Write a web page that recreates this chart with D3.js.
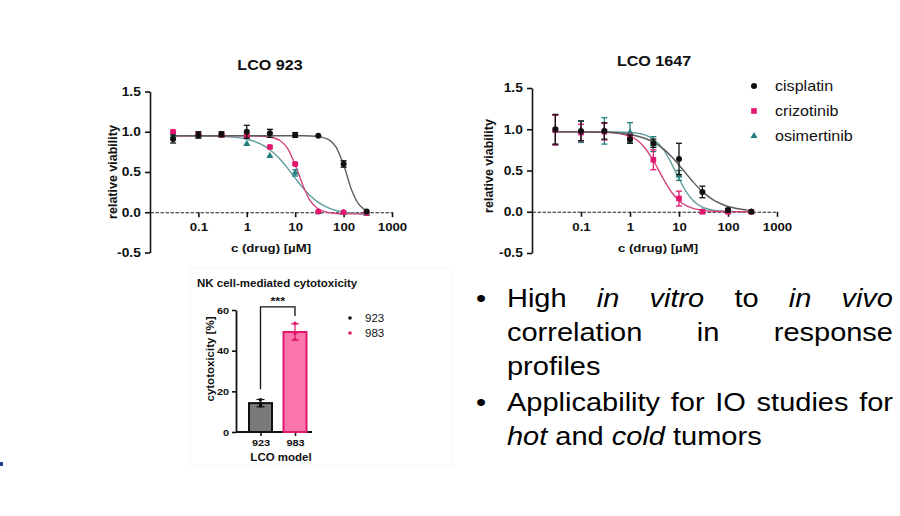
<!DOCTYPE html>
<html><head><meta charset="utf-8">
<script src="https://cdn.jsdelivr.net/npm/d3@7"></script>
<style>
body{margin:0;background:#fff}
svg{display:block}
text{font-family:"Liberation Sans",Arial,sans-serif}
</style>
</head><body>
<svg id="c" width="900" height="516"></svg>
<script>
// ---------- data ----------
const conc = [0.03, 0.1, 0.3, 1, 3, 10, 30, 100, 300];
const drugs = ["cisplatin", "crizotinib", "osimertinib"];
const yTicks = [-0.5, 0, 0.5, 1.0, 1.5];
const xTicks = [0.1, 1, 10, 100, 1000];

// LCO 923 measured points (mean, error)
const p923Cis = [0.91, 0.96, 0.97, 1.00, 0.98, 0.96, 0.95, 0.60, 0.01];
const p923CisErr = [0.05, 0.04, 0.03, 0.08, 0.05, 0.03, 0.01, 0.04, 0.01];
const p923Cri = [1.00, 0.97, 0.96, 0.95, 0.81, 0.60, 0.01, 0.00, -0.01];
const p923CriErr = [0.02, 0.02, 0.02, 0.02, 0.02, 0.02, 0.01, 0.01, 0.01];
const p923Osi = [0.95, 0.95, 0.95, 0.85, 0.70, 0.49, 0.00, -0.01, -0.02];
const p923OsiErr = [0.01, 0.01, 0.01, 0.01, 0.01, 0.04, 0.01, 0.01, 0.01];

// LCO 1647 measured points (mean, error)
const p1647Cis = [1.00, 0.98, 0.98, 0.88, 0.83, 0.64, 0.24, 0.02, 0.00];
const p1647CisErr = [0.18, 0.12, 0.10, 0.05, 0.05, 0.19, 0.07, 0.02, 0.01];
const p1647Cri = [0.99, 0.96, 0.97, 0.90, 0.63, 0.16, 0.00, 0.00, 0.00];
const p1647CriErr = [0.18, 0.10, 0.10, 0.04, 0.12, 0.09, 0.01, 0.01, 0.01];
const p1647Osi = [0.99, 0.97, 0.98, 0.96, 0.82, 0.44, 0.00, 0.00, 0.00];
const p1647OsiErr = [0.18, 0.13, 0.16, 0.12, 0.09, 0.06, 0.01, 0.01, 0.01];

// fitted curves at these concentrations
const curveConc = [0.03, 0.1, 0.3, 1, 2, 3, 5, 7, 10, 15, 20, 30, 50, 70, 100, 150, 200, 250, 300];
const c923Cis = [0.95, 0.95, 0.95, 0.95, 0.95, 0.95, 0.95, 0.95, 0.95, 0.95, 0.948, 0.94, 0.90, 0.81, 0.59, 0.26, 0.11, 0.05, 0.02];
const c923Cri = [0.95, 0.95, 0.95, 0.95, 0.945, 0.935, 0.885, 0.79, 0.59, 0.31, 0.15, 0.04, -0.005, -0.015, -0.02, -0.02, -0.02, -0.02, -0.02];
const c923Osi = [0.95, 0.948, 0.942, 0.907, 0.843, 0.777, 0.651, 0.545, 0.424, 0.29, 0.211, 0.123, 0.052, 0.022, 0.003, -0.01, -0.017, -0.02, -0.023];
const c1647Cis = [0.97, 0.968, 0.963, 0.937, 0.891, 0.844, 0.753, 0.670, 0.567, 0.44, 0.353, 0.244, 0.144, 0.10, 0.064, 0.04, 0.027, 0.02, 0.016];
const c1647Cri = [0.97, 0.97, 0.965, 0.913, 0.776, 0.621, 0.379, 0.239, 0.134, 0.064, 0.037, 0.017, 0.006, 0.003, 0.002, 0.001, 0, 0, 0];
const c1647Osi = [0.97, 0.97, 0.97, 0.961, 0.931, 0.881, 0.74, 0.587, 0.40, 0.216, 0.128, 0.057, 0.019, 0.009, 0.004, 0.002, 0.001, 0, 0];

// NK cell-mediated cytotoxicity
const barCats = ["923", "983"];
const barMeans = [14.2, 49.2];
const barErr = [1.8, 4.0];
const barPoints = [[12.8, 14.0, 15.8], [45.6, 48.6, 53.4]];
const barTicks = [0, 20, 40, 60];
const sigLabel = "***";

// bullet text
const bulletLines = [
  { words: [["High", 0], ["in", 1], ["vitro", 1], ["to", 0], ["in", 1], ["vivo", 1]], justify: true, bullet: true },
  { words: [["correlation", 0], ["in", 0], ["response", 0]], justify: true },
  { words: [["profiles", 0]] },
  { words: [["Applicability", 0], ["for", 0], ["IO", 0], ["studies", 0], ["for", 0]], justify: true, bullet: true },
  { words: [["hot", 1], ["and", 0], ["cold", 1], ["tumors", 0]] }
];
const bulletY = [307, 341, 375, 411, 445];

// ---------- styles ----------
const SX = 1.15;
const ptColors = ["#111111", "#e5166f", "#23807f"];
const lnColors = ["#5c5c5c", "#d6457d", "#5f9e9d"];
const svg = d3.select("#c");

function T(parent, x, y, str, o = {}) {
  const t = parent.append("text")
    .attr("transform", `translate(${x},${y}) scale(${o.sx || SX},1)`)
    .attr("text-anchor", o.anchor || "start")
    .attr("font-size", o.size || 12)
    .attr("font-weight", o.bold ? "bold" : "normal")
    .attr("font-style", o.italic ? "italic" : "normal")
    .attr("fill", o.fill || "#111")
    .text(str);
  return t;
}
function TR(parent, x, y, str, o = {}) {
  return parent.append("text")
    .attr("transform", `translate(${x},${y}) rotate(-90)`)
    .attr("text-anchor", "middle")
    .attr("font-size", o.size || 12)
    .attr("font-weight", "bold")
    .attr("fill", "#111")
    .text(str);
}

function marker(g, kind, cx, cy, color) {
  if (kind === "circle") {
    g.append("circle").attr("cx", cx).attr("cy", cy).attr("r", 3).attr("fill", color);
  } else if (kind === "square") {
    g.append("rect").attr("x", cx - 2.8).attr("y", cy - 2.8).attr("width", 5.6).attr("height", 5.6).attr("fill", color);
  } else {
    g.append("path").attr("d", d3.symbol(d3.symbolTriangle, 22)()).attr("transform", `translate(${cx},${cy})`).attr("fill", color);
  }
}

function dosePanel(o) {
  const x = d3.scaleLog().domain([0.01, 1000]).range([o.x0, o.x1]);
  const y = d3.scaleLinear().domain([-0.5, 1.5]).range([o.yb, o.yt]);
  const g = svg.append("g");

  // y axis
  const yg = g.append("g").attr("transform", `translate(${o.x0},0)`)
    .call(d3.axisLeft(y).tickValues(yTicks).tickFormat(d => d.toFixed(1)).tickSize(5).tickSizeOuter(0).tickPadding(3));
  yg.select(".domain").attr("stroke", "#111").attr("stroke-width", 1.6);
  yg.selectAll(".tick line").attr("stroke", "#111").attr("stroke-width", 1.6);
  yg.selectAll(".tick text").attr("font-size", 12).attr("font-weight", "bold").attr("fill", "#111")
    .attr("font-family", "Liberation Sans, Arial, sans-serif").attr("transform", `scale(${SX},1)`);

  // x axis at y = 0
  const xg = g.append("g").attr("transform", `translate(0,${y(0)})`)
    .call(d3.axisBottom(x).tickValues(xTicks).tickFormat(d => String(d)).tickSize(5).tickSizeOuter(0).tickPadding(6));
  xg.select(".domain").attr("stroke", "#222").attr("stroke-width", 1.1).attr("stroke-dasharray", "3.5,1.5");
  xg.selectAll(".tick line").attr("stroke", "#111").attr("stroke-width", 1.6);
  xg.selectAll(".tick text").attr("font-size", 11.5).attr("font-weight", "bold").attr("fill", "#111")
    .attr("font-family", "Liberation Sans, Arial, sans-serif").attr("transform", `scale(${SX},1)`);

  T(g, o.titleX, o.titleY, o.title, { size: 14, bold: true, anchor: "middle" });
  T(g, o.xlabX, o.xlabY, "c (drug) [µM]", { size: 11.5, bold: true, anchor: "middle" });
  TR(g, o.ylabX, o.ylabY, "relative viability", { size: 12.5 });

  const line = d3.line().x(d => x(d[0])).y(d => y(d[1])).curve(d3.curveMonotoneX);
  const order = [2, 1, 0];
  order.forEach(i => {
    g.append("path").datum(curveConc.map((c, k) => [c, o.curves[i][k]]))
      .attr("d", line).attr("fill", "none").attr("stroke", lnColors[i]).attr("stroke-width", 1.4);
  });
  order.forEach(i => {
    const kind = i === 0 ? "circle" : (i === 1 ? o.criShape : "triangle");
    conc.forEach((c, k) => {
      const v = o.pts[i][k], e = o.errs[i][k];
      const cx = x(c);
      if (e > 0.015) {
        const y1 = y(v + e), y2 = y(v - e);
        g.append("line").attr("x1", cx).attr("x2", cx).attr("y1", y1).attr("y2", y2).attr("stroke", ptColors[i]).attr("stroke-width", 1.3);
        g.append("line").attr("x1", cx - 3).attr("x2", cx + 3).attr("y1", y1).attr("y2", y1).attr("stroke", ptColors[i]).attr("stroke-width", 1.3);
        g.append("line").attr("x1", cx - 3).attr("x2", cx + 3).attr("y1", y2).attr("y2", y2).attr("stroke", ptColors[i]).attr("stroke-width", 1.3);
      }
      marker(g, kind, cx, y(v), ptColors[i]);
    });
  });
  return g;
}

dosePanel({
  x0: 150, x1: 392, yt: 91.5, yb: 252.5,
  title: "LCO 923", titleX: 270, titleY: 70,
  xlabX: 271, xlabY: 252, ylabX: 117, ylabY: 172,
  curves: [c923Cis, c923Cri, c923Osi],
  pts: [p923Cis, p923Cri, p923Osi],
  errs: [p923CisErr, p923CriErr, p923OsiErr],
  criShape: "circle"
});

dosePanel({
  x0: 532, x1: 777, yt: 88, yb: 253,
  title: "LCO 1647", titleX: 654, titleY: 66,
  xlabX: 658, xlabY: 252, ylabX: 493, ylabY: 166,
  curves: [c1647Cis, c1647Cri, c1647Osi],
  pts: [p1647Cis, p1647Cri, p1647Osi],
  errs: [p1647CisErr, p1647CriErr, p1647OsiErr],
  criShape: "square"
});

// legend
const legY = [86, 111, 136];
const legKinds = ["circle", "square", "triangle"];
drugs.forEach((d, i) => {
  marker(svg, legKinds[i], 754, legY[i], ptColors[i]);
  T(svg, 775, legY[i] + 5, d, { size: 14 });
});

// ---------- bar chart ----------
const bg = svg.append("g");
bg.append("rect").attr("x", 190).attr("y", 268).attr("width", 262).attr("height", 198)
  .attr("fill", "none").attr("stroke", "#f6f6f6").attr("stroke-width", 1);
const by = d3.scaleLinear().domain([0, 60]).range([432, 310]);
const bx = d3.scalePoint().domain(barCats).range([260.5, 295]);
const bw = 23;

T(bg, 197, 287, "NK cell-mediated cytotoxicity", { size: 10, bold: true });

const byg = bg.append("g").attr("transform", "translate(236,0)")
  .call(d3.axisLeft(by).tickValues(barTicks).tickSize(4).tickSizeOuter(0).tickPadding(2));
byg.select(".domain").attr("stroke", "#111").attr("stroke-width", 1.8);
byg.selectAll(".tick line").attr("stroke", "#111").attr("stroke-width", 1.6);
byg.selectAll(".tick text").attr("font-size", 9.5).attr("font-weight", "bold").attr("fill", "#111")
  .attr("font-family", "Liberation Sans, Arial, sans-serif").attr("transform", `scale(${SX},1)`);

const bxg = bg.append("g").attr("transform", `translate(0,${by(0)})`)
  .call(d3.axisBottom(bx).tickSize(4).tickSizeOuter(0).tickPadding(3));
bxg.select(".domain").remove();
bxg.selectAll(".tick line").attr("stroke", "#111").attr("stroke-width", 1.6);
bxg.selectAll(".tick text").attr("font-size", 9.5).attr("font-weight", "bold").attr("fill", "#111")
  .attr("font-family", "Liberation Sans, Arial, sans-serif").attr("transform", `scale(${SX},1)`);
bg.append("line").attr("x1", 236).attr("x2", 312).attr("y1", by(0)).attr("y2", by(0)).attr("stroke", "#111").attr("stroke-width", 1.8);

T(bg, 281, 461, "LCO model", { size: 10, bold: true, anchor: "middle" });
TR(bg, 214, 359, "cytotoxicity [%]", { size: 11.5 });

const barFill = ["#7a7a7a", "#fb76aa"];
const barStroke = ["#111111", "#e0186c"];
barCats.forEach((c, i) => {
  const cx = bx(c);
  bg.append("rect").attr("x", cx - bw / 2).attr("y", by(barMeans[i])).attr("width", bw)
    .attr("height", by(0) - by(barMeans[i])).attr("fill", barFill[i]).attr("stroke", barStroke[i]).attr("stroke-width", 2);
  const y1 = by(barMeans[i] + barErr[i]), y2 = by(barMeans[i] - barErr[i]);
  bg.append("line").attr("x1", cx).attr("x2", cx).attr("y1", y1).attr("y2", y2).attr("stroke", barStroke[i]).attr("stroke-width", 1.2);
  [y1, y2].forEach(yy => bg.append("line").attr("x1", cx - 4).attr("x2", cx + 4).attr("y1", yy).attr("y2", yy).attr("stroke", barStroke[i]).attr("stroke-width", 1.2));
  barPoints[i].forEach(v => bg.append("circle").attr("cx", cx).attr("cy", by(v)).attr("r", 1.8).attr("fill", barStroke[i]));
});

// significance bracket
const xa = bx(barCats[0]), xb = bx(barCats[1]);
bg.append("path")
  .attr("d", `M${xa},${by(21)}V${by(61.5)}H${xb}V${by(57)}`)
  .attr("fill", "none").attr("stroke", "#111").attr("stroke-width", 1.3);
T(bg, (xa + xb) / 2, by(61.5) - 2, sigLabel, { size: 11, bold: true, anchor: "middle" });

// bar legend
barCats.forEach((c, i) => {
  bg.append("circle").attr("cx", 350).attr("cy", 318 + i * 15).attr("r", 1.8).attr("fill", barStroke[i]);
  T(bg, 365, 322 + i * 15, c, { size: 10 });
});

// ---------- bullet text ----------
const BS = 25, BSX = 1.16, left = 507, right = 893;
const tg = svg.append("g");
bulletLines.forEach((ln, li) => {
  const yy = bulletY[li];
  if (ln.bullet) T(tg, 476, yy, "•", { size: BS, sx: BSX, fill: "#000" });
  const nodes = ln.words.map(w => T(tg, 0, yy, w[0], { size: BS, sx: BSX, italic: w[1] === 1, fill: "#000" }));
  const widths = nodes.map(n => n.node().getComputedTextLength() * BSX);
  const sum = d3.sum(widths);
  const gap = (ln.justify && nodes.length > 1) ? (right - left - sum) / (nodes.length - 1) : 0.278 * BS * BSX;
  let cx = left;
  nodes.forEach((n, k) => {
    n.attr("transform", `translate(${cx},${yy}) scale(${BSX},1)`);
    cx += widths[k] + gap;
  });
});

// small blue mark at left edge
svg.append("rect").attr("x", 0).attr("y", 462).attr("width", 3).attr("height", 4).attr("fill", "#24408e");
</script>
</body></html>
